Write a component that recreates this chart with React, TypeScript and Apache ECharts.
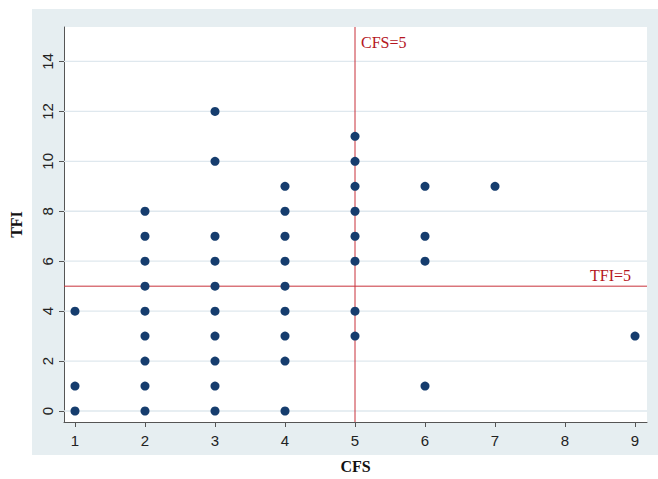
import React, { useEffect, useRef } from "react";
import * as echarts from "echarts";

// CFS (x) vs TFI (y) observations
const cfsValues: number[] = [
  1, 1, 1,
  2, 2, 2, 2, 2, 2, 2, 2, 2,
  3, 3, 3, 3, 3, 3, 3, 3, 3, 3,
  4, 4, 4, 4, 4, 4, 4, 4, 4,
  5, 5, 5, 5, 5, 5, 5, 5,
  6, 6, 6, 6,
  7,
  9,
];
const tfiValues: number[] = [
  0, 1, 4,
  0, 1, 2, 3, 4, 5, 6, 7, 8,
  0, 1, 2, 3, 4, 5, 6, 7, 10, 12,
  0, 2, 3, 4, 5, 6, 7, 8, 9,
  3, 4, 6, 7, 8, 9, 10, 11,
  1, 6, 7, 9,
  9,
  3,
];
const xTicks: number[] = [1, 2, 3, 4, 5, 6, 7, 8, 9];
const yTicks: number[] = [0, 2, 4, 6, 8, 10, 12, 14];
const cfsCut = 5;
const tfiCut = 5;

const X_MIN = 0.843;
const X_MAX = 9.171;
const Y_MIN = -0.44;
const Y_MAX = 15.38;

const RED = "#c8313a";
const GRID = "#dfe8ee";

export default function App() {
  const ref = useRef<HTMLDivElement>(null);
  useEffect(() => {
    if (!ref.current) return;
    document.body.style.margin = "0";
    document.documentElement.style.margin = "0";
    const chart = echarts.init(ref.current, undefined, { renderer: "svg" });
    const points = cfsValues.map((x, i) => [x, tfiValues[i]]);
    const gridSeries = yTicks.map((v) => ({
      type: "line",
      silent: true,
      symbol: "none",
      z: 1,
      data: [
        [X_MIN, v],
        [X_MAX, v],
      ],
      lineStyle: { color: GRID, width: 1.3 },
      emphasis: { disabled: true },
    }));
    chart.setOption({
      animation: false,
      backgroundColor: "#ffffff",
      tooltip: { show: false },
      graphic: [
        {
          type: "rect",
          z: -10,
          shape: { x: 32, y: 9, width: 626, height: 446 },
          style: { fill: "#e6eef1" },
          silent: true,
        },
      ],
      grid: {
        left: 64,
        top: 27,
        right: 11,
        bottom: 52,
        show: true,
        backgroundColor: "#ffffff",
        borderWidth: 0,
      },
      xAxis: {
        type: "value",
        min: X_MIN,
        max: X_MAX,
        name: "CFS",
        nameLocation: "middle",
        nameGap: 36,
        nameTextStyle: {
          fontFamily: "Liberation Serif",
          fontWeight: "bold",
          fontSize: 16,
          color: "#111",
        },
        axisLine: { show: true, onZero: false, lineStyle: { color: "#555", width: 1 } },
        axisTick: { show: true, customValues: xTicks, length: 5, lineStyle: { color: "#555" } },
        axisLabel: {
          customValues: xTicks,
          margin: 11,
          fontFamily: "Liberation Sans",
          fontSize: 15,
          color: "#222",
        },
        splitLine: { show: false },
      },
      yAxis: {
        type: "value",
        min: Y_MIN,
        max: Y_MAX,
        name: "TFI",
        nameLocation: "middle",
        nameGap: 40,
        nameRotate: 90,
        nameTextStyle: {
          fontFamily: "Liberation Serif",
          fontWeight: "bold",
          fontSize: 16,
          color: "#111",
        },
        axisLine: { show: true, onZero: false, lineStyle: { color: "#555", width: 1 } },
        axisTick: { show: true, customValues: yTicks, length: 5, lineStyle: { color: "#555" } },
        axisLabel: {
          customValues: yTicks,
          rotate: 90,
          margin: 9,
          fontFamily: "Liberation Sans",
          fontSize: 15,
          color: "#222",
        },
        splitLine: { show: false },
      },
      series: [
        ...gridSeries,
        {
          type: "line",
          silent: true,
          symbol: "none",
          z: 2,
          data: [
            [cfsCut, Y_MIN],
            [cfsCut, Y_MAX],
          ],
          lineStyle: { color: RED, width: 1 },
          emphasis: { disabled: true },
        },
        {
          type: "line",
          silent: true,
          symbol: "none",
          z: 2,
          data: [
            [X_MIN, tfiCut],
            [X_MAX, tfiCut],
          ],
          lineStyle: { color: RED, width: 1 },
          emphasis: { disabled: true },
        },
        {
          type: "scatter",
          data: points,
          symbol: "circle",
          symbolSize: 9,
          itemStyle: { color: "#163d6e", opacity: 1 },
          z: 5,
          markPoint: {
            silent: true,
            symbol: "circle",
            symbolSize: 0,
            animation: false,
            itemStyle: { color: "transparent" },
            data: [
              {
                coord: [cfsCut, 14.75],
                label: {
                  show: true,
                  formatter: "CFS=" + cfsCut,
                  position: "right",
                  distance: 6,
                  fontFamily: "Liberation Serif",
                  fontSize: 16,
                  color: "#b5161e",
                },
              },
              {
                coord: [9, tfiCut],
                label: {
                  show: true,
                  formatter: "TFI=" + tfiCut,
                  position: "top",
                  align: "right",
                  offset: [-4, 0],
                  distance: 3,
                  fontFamily: "Liberation Serif",
                  fontSize: 16,
                  color: "#b5161e",
                },
              },
            ],
          },
        },
      ],
    });
    return () => chart.dispose();
  }, []);
  return (
    <div
      ref={ref}
      style={{ position: "absolute", left: 0, top: 0, width: 658, height: 479 }}
    />
  );
}
